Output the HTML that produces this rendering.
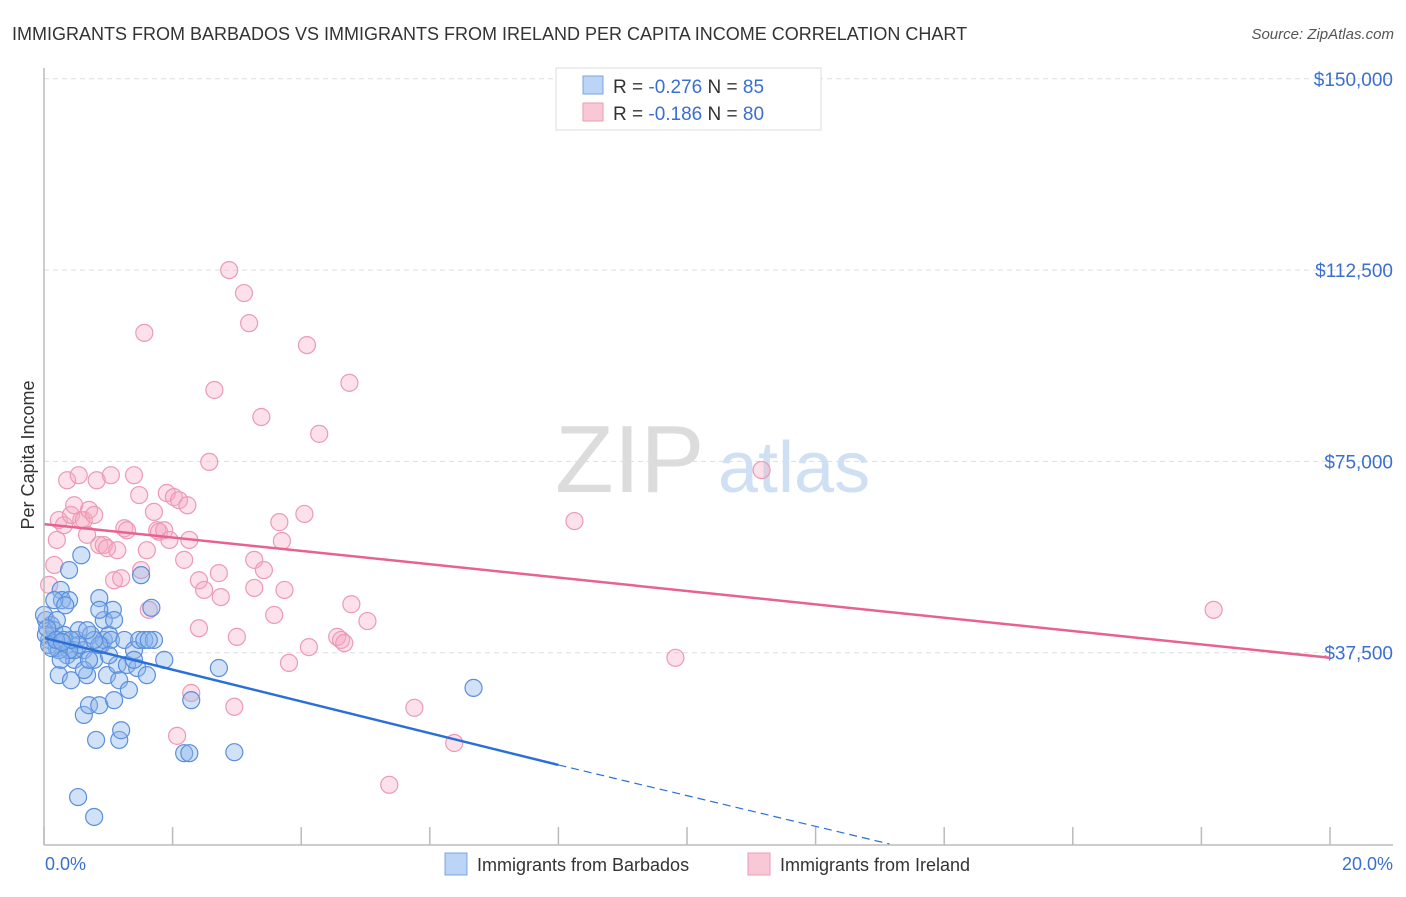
<!DOCTYPE html>
<html><head><meta charset="utf-8"><style>
body{margin:0;background:#fff;font-family:"Liberation Sans",sans-serif}
svg text{font-family:"Liberation Sans",sans-serif}
</style></head><body>
<svg id="c" width="1406" height="892">
<text x="12" y="40" font-size="18" fill="#333">IMMIGRANTS FROM BARBADOS VS IMMIGRANTS FROM IRELAND PER CAPITA INCOME CORRELATION CHART</text>
<text x="1394" y="39" font-size="15" fill="#555" text-anchor="end" font-style="italic">Source: ZipAtlas.com</text>
<text x="555" y="492" font-size="96" fill="#dcdcdc" font-family="Liberation Serif">ZIP</text>
<text x="718" y="492" font-size="72" fill="#cfe0f4">atlas</text>
<text transform="translate(34,455) rotate(-90)" font-size="18" fill="#333" text-anchor="middle">Per Capita Income</text>
<g id="grid"></g><g id="pts"></g><g id="lines"></g>
<line x1="44" y1="68" x2="44" y2="845" stroke="#bbb" stroke-width="1.5"/>
<line x1="44" y1="845" x2="1393" y2="845" stroke="#bbb" stroke-width="1.5"/>
<text x="45" y="870" font-size="18" fill="#3a6fd0">0.0%</text>
<text x="1393" y="870" font-size="18" fill="#3a6fd0" text-anchor="end">20.0%</text>
<g>
<rect x="556" y="68" width="265" height="62" fill="#fff" stroke="#ddd"/>
<rect x="583" y="76" width="20" height="18" fill="#bcd4f5" stroke="#7aa4e0"/>
<rect x="583" y="103" width="20" height="18" fill="#f9c8d6" stroke="#ec9ab3"/>
<text x="613" y="93" font-size="19" fill="#333">R = <tspan fill="#3a6fd0">-0.276</tspan>   N = <tspan fill="#3a6fd0">85</tspan></text>
<text x="613" y="120" font-size="19" fill="#333">R = <tspan fill="#3a6fd0">-0.186</tspan>   N = <tspan fill="#3a6fd0">80</tspan></text>
</g>
<g>
<rect x="445" y="853" width="22" height="22" fill="#bcd4f5" stroke="#7aa4e0"/>
<text x="477" y="871" font-size="18" fill="#333">Immigrants from Barbados</text>
<rect x="748" y="853" width="22" height="22" fill="#f9c8d6" stroke="#ec9ab3"/>
<text x="780" y="871" font-size="18" fill="#333">Immigrants from Ireland</text>
</g>
</svg>
<script>
const yTicks=[150000,112500,75000,37500];
const yTickLabels=["$150,000","$112,500","$75,000","$37,500"];
const xTicks=[0,2,4,6,8,10,12,14,16,18,20];
const blueX=[0.03,0.08,0.11,0.16,0.2,0.23,0.26,0.28,0.31,0.36,0.39,0.39,0.42,0.47,0.51,0.54,0.58,0.62,0.62,0.67,0.7,0.73,0.78,0.81,0.86,0.86,0.89,0.93,0.98,1.01,1.04,1.07,1.09,1.14,1.17,1.2,1.25,1.29,1.4,1.45,1.48,1.51,1.56,1.6,1.67,1.71,1.87,2.18,2.26,2.29,2.72,2.96,6.68,0.53,0.78,0.0,0.03,0.08,0.2,0.31,0.47,0.62,0.7,0.86,1.01,1.17,1.32,0.78,0.54,0.39,0.23,0.16,0.33,0.93,1.09,1.4,1.63,0.67,0.42,0.26,0.86,0.05,0.12,0.19,0.28];
const blueY=[43.9,40.0,42.9,41.9,38.4,33.1,49.8,47.8,41.0,37.0,53.7,47.8,32.1,36.1,40.0,41.9,56.6,38.0,25.3,33.1,27.2,41.0,36.1,20.4,48.2,27.2,39.0,40.0,33.1,41.0,40.0,45.9,28.2,35.1,20.4,22.3,40.0,35.1,38.0,34.5,40.0,52.7,40.0,33.1,46.3,40.0,36.1,17.8,17.8,28.2,34.5,18.0,30.6,9.2,5.3,44.9,41.0,39.0,43.9,40.0,38.0,34.1,36.1,39.0,37.0,32.1,30.2,40.0,39.0,38.0,38.0,47.8,46.8,43.9,43.9,36.1,40.0,41.9,40.0,36.1,45.9,42.3,38.4,40.0,39.6];
const pinkX=[0.08,0.16,0.2,0.23,0.31,0.36,0.42,0.47,0.54,0.58,0.62,0.67,0.7,0.78,0.82,0.86,0.93,0.98,1.04,1.09,1.14,1.2,1.25,1.29,1.4,1.48,1.51,1.56,1.6,1.63,1.71,1.76,1.79,1.87,1.91,1.95,2.02,2.1,2.18,2.23,2.26,2.29,2.41,2.41,2.49,2.57,2.65,2.72,2.75,2.88,2.96,3.0,3.11,3.19,3.27,3.27,3.38,3.42,3.58,3.66,3.7,3.74,3.81,4.05,4.09,4.12,4.28,4.56,4.62,4.67,4.75,4.78,5.03,5.37,5.76,6.38,8.25,9.82,11.16,18.19,2.07];
const pinkY=[50.8,54.7,59.6,63.5,62.5,71.3,64.5,66.4,72.3,63.5,63.5,60.6,65.5,64.5,71.3,58.6,58.6,58.0,72.3,51.7,57.6,52.1,61.9,61.5,72.3,68.4,53.7,100.2,57.6,45.9,65.1,61.5,61.2,61.5,68.8,59.6,68.0,67.4,55.7,66.4,59.6,29.6,51.7,42.3,49.8,74.9,89.0,53.1,48.4,112.5,26.9,40.6,108.0,102.1,50.2,55.7,83.7,53.7,44.9,63.1,59.4,49.8,35.5,64.7,97.8,38.6,80.4,40.6,40.0,39.4,90.4,47.0,43.7,11.6,26.7,19.8,63.3,36.5,73.3,45.9,21.2];
const blueTrend=[[0,40.4],[8,15.5],[13.15,0]];
const pinkTrend=[[0,62.7],[20,36.5]];
const NS="http://www.w3.org/2000/svg";
const sx=v=>44+v*64.3;
const sy=v=>844-v/37500*191.3;
function mk(t,a,p){const e=document.createElementNS(NS,t);for(const k in a)e.setAttribute(k,a[k]);p.appendChild(e);return e;}
const grid=document.getElementById('grid');
yTicks.forEach((t,i)=>{
 const l=mk('line',{x1:44,x2:1393,y1:sy(t),y2:sy(t),stroke:'#ddd','stroke-dasharray':'5,4'},grid);
 
 
 const tx=mk('text',{x:1393,y:sy(t)+7,'font-size':19,fill:'#3a6fd0','text-anchor':'end'},grid);
 tx.textContent=yTickLabels[i];
 
 
});
xTicks.forEach(t=>{
 const l=mk('line',{x1:sx(t),x2:sx(t),y1:827,y2:845,stroke:'#bbb','stroke-width':1.5},grid);
 
 
});
const pts=document.getElementById('pts');
pinkX.forEach((x,i)=>{
 const c=mk('circle',{cx:sx(x),cy:sy(pinkY[i]*1000),r:8.5,fill:'rgba(246,170,195,0.35)',stroke:'#ec9ab3','stroke-width':1.2},pts);
 
 
});
blueX.forEach((x,i)=>{
 const c=mk('circle',{cx:sx(x),cy:sy(blueY[i]*1000),r:8.5,fill:'rgba(140,180,235,0.4)',stroke:'#5a8fdc','stroke-width':1.2},pts);
 
 
});
const lines=document.getElementById('lines');
const b1=mk('line',{x1:sx(blueTrend[0][0]),y1:sy(blueTrend[0][1]*1000),x2:sx(blueTrend[1][0]),y2:sy(blueTrend[1][1]*1000),stroke:'#2a6fd6','stroke-width':2.5},lines);


const b2=mk('line',{x1:sx(blueTrend[1][0]),y1:sy(blueTrend[1][1]*1000),x2:sx(blueTrend[2][0]),y2:sy(blueTrend[2][1]*1000),stroke:'#2a6fd6','stroke-width':1.2,'stroke-dasharray':'8,5'},lines);


const p1=mk('line',{x1:sx(pinkTrend[0][0]),y1:sy(pinkTrend[0][1]*1000),x2:sx(pinkTrend[1][0]),y2:sy(pinkTrend[1][1]*1000),stroke:'#e8628f','stroke-width':2.5},lines);


</script>
</body></html>
